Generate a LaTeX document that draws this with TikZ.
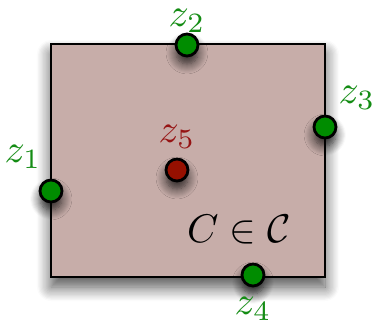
\documentclass[tikz,border=0pt]{standalone}
\usetikzlibrary{shadows.blur}
\definecolor{boxfill}{RGB}{199,173,169}
\definecolor{ptgreen}{RGB}{0,140,0}
\definecolor{ptred}{RGB}{150,16,0}
\definecolor{lblgreen}{RGB}{20,140,20}
\definecolor{lblred}{RGB}{150,20,20}
\begin{document}
\begin{tikzpicture}[x=0.25pt,y=-0.25pt,
  region/.style={draw=black,line width=0.5pt,fill=boxfill,
     blur shadow={shadow xshift=0pt,shadow yshift=-2.5pt,shadow blur radius=3.5pt,shadow blur steps=12,shadow opacity=70}},
  pt/.style={circle,draw=black,line width=0.7pt,minimum size=5.5pt,inner sep=0pt,
     blur shadow={shadow xshift=0pt,shadow yshift=-2pt,shadow blur radius=2.5pt,shadow blur steps=10,shadow opacity=80}},
  gpt/.style={pt,fill=ptgreen},
  rpt/.style={pt,fill=ptred},
  glbl/.style={text=lblgreen,inner sep=0pt},
  rlbl/.style={text=lblred,inner sep=0pt}]
\useasboundingbox (0,0) rectangle (372,332);
\node[region,minimum width=68.5pt,minimum height=58.25pt,inner sep=0pt,anchor=north west] (box) at (50,43) {};
\node at (239,230) (lab) {$C\in\mathcal{C}$};
\node[gpt] (z2) at (187,45) {};
\node[gpt] (z3) at (325,127) {};
\node[gpt] (z1) at (51,191) {};
\node[gpt] (z4) at (253,275) {};
\node[rpt] (z5) at (177,170) {};
\node[glbl] (l2) at (187,21) {$z_2$};
\node[glbl] (l3) at (357,98) {$z_3$};
\node[glbl] (l1) at (23,157) {$z_1$};
\node[glbl] (l4) at (253,309) {$z_4$};
\node[rlbl] (l5) at (177,137) {$z_5$};
\end{tikzpicture}
\end{document}
